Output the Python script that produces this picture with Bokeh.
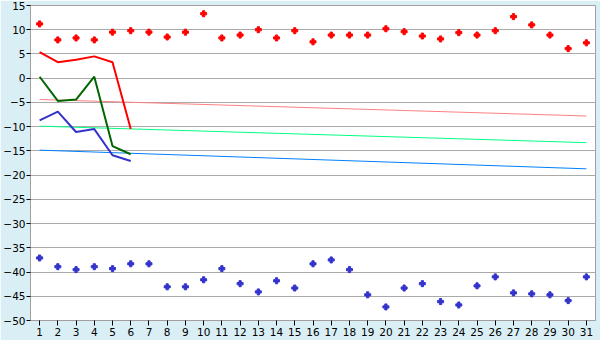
from bokeh.plotting import figure
from bokeh.models import FixedTicker, ColumnDataSource
from bokeh.embed import file_html
from bokeh.resources import INLINE

days = list(range(1, 32))
red_points = [11.2, 7.9, 8.3, 7.9, 9.5, 9.8, 9.5, 8.5, 9.5, 13.3,
              8.3, 8.9, 10.0, 8.3, 9.8, 7.5, 8.9, 8.9, 8.9, 10.2,
              9.6, 8.7, 8.1, 9.4, 8.9, 9.8, 12.7, 11.0, 8.9, 6.1, 7.3]
blue_points = [-37.1, -38.9, -39.5, -38.9, -39.3, -38.3, -38.3, -43.05, -43.05, -41.6,
               -39.3, -42.4, -44.1, -41.8, -43.3, -38.3, -37.5, -39.5, -44.7, -47.2,
               -43.3, -42.4, -46.1, -46.8, -42.85, -41.0, -44.3, -44.5, -44.7, -45.9, -41.0]
line_days = [1, 2, 3, 4, 5, 6]
red_line = [5.4, 3.3, 3.8, 4.5, 3.3, -10.5]
green_line = [0.3, -4.7, -4.4, 0.3, -14.0, -15.7]
blue_line = [-8.7, -6.9, -11.1, -10.5, -15.9, -17.1]
trend_days = [1, 31]
trend_red = [-4.4, -7.8]
trend_green = [-9.9, -13.3]
trend_blue = [-14.85, -18.7]
y_ticks = list(range(-50, 16, 5))

bg = "#D9EFF5"
p = figure(width=600, height=340, output_backend="svg", toolbar_location=None,
           x_range=(0.5, 31.5), y_range=(-50, 15),
           background_fill_color="white", border_fill_color=bg,
           min_border_left=27, min_border_right=5, min_border_top=5, min_border_bottom=20)
p.outline_line_color = "#A0A0A0"
p.outline_line_width = 1

p.xaxis.ticker = FixedTicker(ticks=days)
p.yaxis.ticker = FixedTicker(ticks=y_ticks)
p.xgrid.grid_line_color = None
p.ygrid.grid_line_color = "#AAAAAA"
p.ygrid.grid_line_width = 1
for ax in (p.xaxis, p.yaxis):
    ax.axis_line_color = "#A0A0A0"
    ax.major_tick_line_color = "black"
    ax.minor_tick_line_color = None
    ax.major_label_text_font = "DejaVu Sans"
    ax.major_label_text_font_size = "10.5px"
    ax.major_label_text_color = "black"
p.xaxis.major_tick_in = 0
p.xaxis.major_tick_out = 5
p.yaxis.major_tick_in = 0
p.yaxis.major_tick_out = 4
p.xaxis.major_label_standoff = 2
p.yaxis.major_label_standoff = 1

# trend lines
p.line(trend_days, trend_red, line_color="#FF8080", line_width=1)
p.line(trend_days, trend_green, line_color="#00FF80", line_width=1)
p.line(trend_days, trend_blue, line_color="#0080FF", line_width=1)

# series lines
p.line(line_days, red_line, line_color="#FF0000", line_width=2)
p.line(line_days, green_line, line_color="#006600", line_width=2)
p.line(line_days, blue_line, line_color="#3333CC", line_width=2)

# scatter points
src = ColumnDataSource(dict(day=days, red=red_points, blue=blue_points))
p.scatter("day", "red", source=src, marker="plus", size=6, color="#FF0000")
p.scatter("day", "blue", source=src, marker="plus", size=6, color="#3333CC")

open("out.html", "w").write(file_html(p, INLINE))
